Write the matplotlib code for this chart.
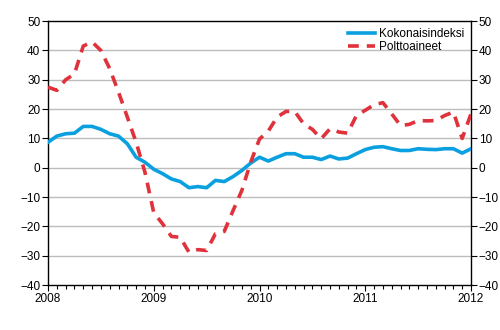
import numpy as np
import matplotlib.pyplot as plt
from matplotlib.ticker import MultipleLocator

plt.rcParams['font.family'] = ['Liberation Sans', 'DejaVu Sans']

# monthly values, Jan 2008 - Jan 2012
kokonais = [8.7, 10.8, 11.6, 11.8, 14.1, 14.1, 13.1, 11.6, 10.8, 8.2, 3.6, 1.9,
            -0.5, -2.0, -3.8, -4.7, -6.8, -6.4, -6.8, -4.3, -4.7, -3.0, -0.9, 1.6,
            3.6, 2.3, 3.6, 4.8, 4.8, 3.6, 3.6, 2.8, 4.0, 3.0, 3.3, 4.8,
            6.2, 7.0, 7.2, 6.5, 5.9, 5.9, 6.5, 6.3, 6.2, 6.5, 6.5, 5.0,
            6.5]
poltto = [27.5, 26.4, 30.0, 32.0, 41.5, 42.9, 40.0, 33.8, 25.8, 17.3, 8.7, -1.5,
          -15.3, -19.1, -23.4, -23.7, -28.8, -27.9, -28.2, -22.5, -21.7, -14.6, -7.7, 1.9,
          9.8, 12.5, 17.3, 19.2, 19.2, 15.0, 13.1, 9.9, 13.3, 12.2, 11.8, 17.8,
          19.6, 21.5, 22.2, 18.4, 14.4, 14.8, 16.1, 16.0, 16.1, 17.8, 19.0, 10.0,
          18.4]
years = [2008, 2009, 2010, 2011, 2012]

x = 2008 + np.arange(len(kokonais)) / 12.0

fig = plt.figure(figsize=(5, 3.3), dpi=100)
ax = fig.add_axes([0.096, 0.136, 0.846, 0.8])

ax.plot(x, kokonais, color='#0aa0e0', lw=2.6, label='Kokonaisindeksi', zorder=3)
ax.plot(x, poltto, color='#e0323c', lw=2.6, ls=(0, (3, 2.2)), label='Polttoaineet', zorder=4)

ax.set_xlim(2008, 2012)
ax.set_ylim(-40, 50)
ax.set_xticks(years)
ax.set_xticklabels([str(y) for y in years])
ax.xaxis.set_minor_locator(MultipleLocator(1 / 12))
ax.yaxis.set_major_locator(MultipleLocator(10))

for v in range(-30, 50, 10):
    ax.axhline(v, color='#bdbdbd', lw=1, zorder=1)

ax.tick_params(axis='y', which='both', left=True, right=True, labelleft=True,
               labelright=True, direction='out', length=4, width=0.8,
               labelsize=8.5, pad=1.5)
ax.tick_params(axis='x', which='major', direction='out', length=4, width=0.8,
               labelsize=8.5, pad=2)
ax.tick_params(axis='x', which='minor', direction='out', length=3, width=0.8)

for s in ax.spines.values():
    s.set_linewidth(1)
    s.set_color('black')

ax.legend(loc='upper right', frameon=False, fontsize=8.5, handlelength=2.3,
          handletextpad=0.3, labelspacing=0.1, borderaxespad=0.2,
          bbox_to_anchor=(1.0, 1.0))

fig.savefig('out.png', dpi=100)
